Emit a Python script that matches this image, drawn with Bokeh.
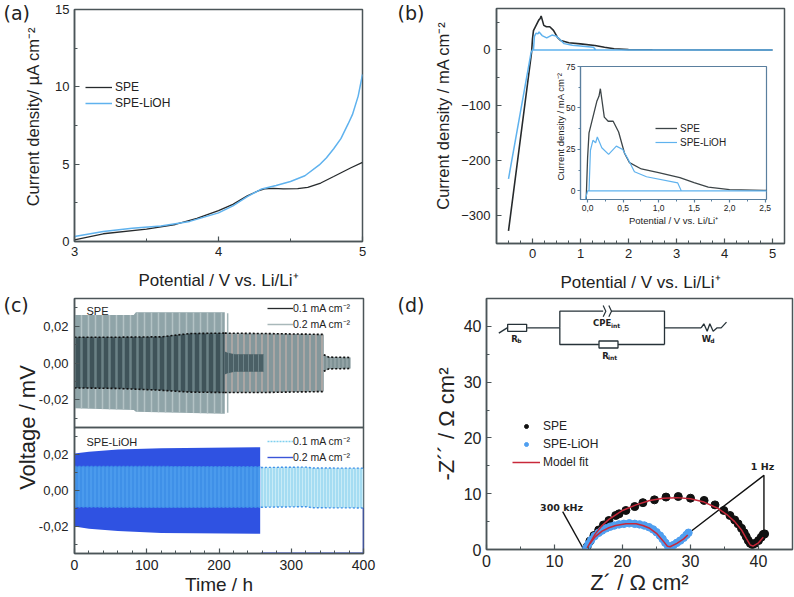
from bokeh.plotting import figure
from bokeh.models import FixedTicker, Legend, LegendItem, Range1d
from bokeh.core.properties import value
from bokeh.embed import file_html
from bokeh.resources import INLINE
import numpy as np

ARIAL = "Liberation Sans"
FRAME = "#4b5558"
BLACK = "#262a2c"
BLUE = "#5fb2ee"
W, H = 794, 597
ABS = {"position": "absolute", "left": "0px", "top": "0px"}
NOPE = [float("nan"), float("nan")]

# ---------- panel (a)
a_x_spe = [3, 3.2, 3.5, 3.7, 3.85, 4, 4.1, 4.2, 4.27, 4.32, 4.38, 4.45, 4.55, 4.62, 4.71, 4.8, 4.92, 5]
a_y_spe = [0.1, 0.5, 0.8, 1.1, 1.5, 2.0, 2.4, 2.95, 3.25, 3.4, 3.44, 3.4, 3.42, 3.5, 3.78, 4.2, 4.77, 5.12]
a_x_lioh = [3, 3.2, 3.4, 3.6, 3.8, 4, 4.1, 4.2, 4.3, 4.4, 4.5, 4.6, 4.7, 4.75, 4.8, 4.85, 4.9, 4.93, 4.97, 5]
a_y_lioh = [0.33, 0.65, 0.85, 1.0, 1.3, 1.85, 2.3, 2.9, 3.4, 3.62, 3.88, 4.25, 4.95, 5.42, 6.0, 6.65, 7.6, 8.2, 9.4, 10.8]

# ---------- panel (b) and its inset
b_x_spe = [-0.5, -0.02, 0, 0.02, 0.075, 0.13, 0.16, 0.18, 0.235, 0.29, 0.36, 0.437, 0.52, 0.59, 0.757, 1.0, 1.3, 1.5, 1.7, 2, 2.5, 5]
b_y_spe = [-327, -5, 20, 35, 44.5, 54, 57, 61.6, 44.5, 42, 42, 35.5, 22.7, 17, 13.2, 11, 8, 5, 2.3, 0.7, 0.3, 0]
b_x_lioh = [-0.5, -0.03, 0, 5, 1.32, 1.27, 0.83, 0.66, 0.565, 0.495, 0.405, 0.296, 0.2, 0.137, 0.113, 0.075, 0.04, 0.02]
b_y_lioh = [-233, -5, 0, 0, 0, 4.8, 8.5, 11.5, 19.5, 25, 27, 22, 26, 32.5, 29, 30.5, 24.5, 0]

# ---------- panel (c) envelopes
c_t_env = [0, 82, 85, 208]
c_grey_hi = [0.026, 0.026, 0.0275, 0.0275]
c_grey_lo = [-0.0245, -0.0255, -0.0265, -0.0275]
c_t_dark = [0, 60, 120, 160, 208]
c_dark_hi = [0.014, 0.014, 0.0142, 0.016, 0.0162]
c_dark_lo = [-0.0135, -0.0138, -0.0148, -0.0158, -0.016]
c_t_mid = [208, 262, 345]
c_mid_hi = [0.0162, 0.016, 0.0155]
c_mid_lo = [-0.016, -0.016, -0.0155]
c_t_in = [208, 212, 222, 262]
c_in_hi = [0.0062, 0.0055, 0.0048, 0.0048]
c_in_lo = [-0.0062, -0.0055, -0.0048, -0.0048]
c_t_tail = [345, 352, 382]
c_tail_hi = [0.0045, 0.0032, 0.003]
c_tail_lo = [-0.0045, -0.0032, -0.003]
c_t_sliver = [212, 212]
c_sliver = [-0.027, 0.027]

d1_t = [0, 20, 60, 120, 257]
d1_hi = [0.0205, 0.0215, 0.0228, 0.0235, 0.024]
d1_lo = [-0.02, -0.0212, -0.0225, -0.0236, -0.024]
d2_t = [0, 120, 257]
d2_hi = [0.0133, 0.0133, 0.0132]
d2_lo = [-0.0092, -0.0094, -0.0093]
d3_t = [258, 320, 330, 400]
d3_hi = [0.0128, 0.0130, 0.0125, 0.0124]
d3_lo = [-0.0093, -0.0090, -0.0096, -0.0097]
d4_t = [258, 400, 400]
d4_v = [-0.0349, -0.0349, -0.0097]

# ---------- panel (d)
z_x_spe = [14.8, 15.2, 15.8, 16.5, 17.2, 18, 19, 19.5, 20.5, 21.8, 23, 24.7, 26.4, 28.2, 30, 32, 33.6, 34.9, 35.8, 36.5, 37, 37.5, 37.9, 38.2, 38.5, 38.8, 39.1, 39.5, 40, 40.4, 40.7, 40.9]
z_y_spe = [0.5, 1.5, 2.5, 3.5, 4.4, 5.2, 6.1, 6.4, 7.0, 7.7, 8.4, 8.9, 9.4, 9.5, 9.2, 8.8, 8.0, 7.0, 6.1, 5.3, 4.6, 3.8, 3.0, 2.3, 1.6, 1.1, 0.9, 1.1, 1.6, 2.2, 2.7, 2.8]
z_x_lioh = [14.7, 15, 15.4, 15.9, 16.5, 17, 17.6, 18.2, 18.8, 19.5, 20.2, 21, 21.8, 22.5, 23.2, 23.9, 24.5, 25, 25.5, 25.9, 26.3, 26.7, 27, 27.5, 28, 28.5, 29, 29.4, 29.7]
z_y_lioh = [0.3, 1, 1.7, 2.4, 3, 3.4, 3.8, 4.1, 4.3, 4.5, 4.6, 4.7, 4.6, 4.5, 4.3, 4.0, 3.6, 3.1, 2.5, 1.9, 1.2, 0.6, 0.5, 0.8, 1.2, 1.6, 2.1, 2.6, 3]
fit1_x = [14.8, 16, 17, 18, 20, 22, 24, 26, 28, 30, 32, 34, 35.5, 36.5, 37.5, 38.2, 38.8, 39.2, 40, 40.7]
fit1_y = [0.3, 2.8, 4.3, 5.4, 7, 8, 8.8, 9.2, 9.3, 9.1, 8.5, 7.4, 6.1, 5, 3.5, 2, 0.8, 0.6, 1.2, 2.2]
fit2_x = [15.2, 16, 17, 18, 19, 20.5, 22, 23, 24, 25, 26, 26.6, 27, 28, 29, 29.6]
fit2_y = [1, 2.3, 3.3, 3.9, 4.3, 4.6, 4.6, 4.3, 3.8, 2.9, 1.5, 0.6, 0.5, 1.1, 1.9, 2.6]
call_300_x = [11.2, 14.3]
call_300_y = [6.8, 0]
call_1hz_x = [29.8, 40.8, 40.8]
call_1hz_y = [3, 13.3, 3]

# circuit drawing, in px of a 3x crop whose corner is (490, 295)
wires_x = [[25, 50], [110, 208], [208, 208, 338], [362, 522, 522, 522], [208, 208, 325], [382, 522], [522, 632],
           [632, 640, 650, 658, 668, 680, 692, 708]]
wires_y = [[113, 97], [97, 97], [97, 47, 47], [47, 47, 147, 97], [97, 147, 147], [147, 147], [97, 97],
           [97, 85, 107, 85, 107, 97, 97, 80]]
boxes_x = [80, 354]
boxes_y = [97, 147]
cpe_x = [[338, 346, 338], [355, 363, 355]]
cpe_y = [[30, 47, 64], [30, 47, 64]]


def panel(fx, fy, fw, fh, xr, yr, tick_font):
    p = figure(width=W, height=H, x_range=Range1d(*xr), y_range=Range1d(*yr),
               output_backend="svg", toolbar_location=None,
               min_border_left=fx, min_border_right=W - fx - fw, min_border_top=fy, min_border_bottom=H - fy - fh,
               background_fill_color=None, border_fill_color=None,
               outline_line_color=FRAME, outline_line_width=1.5, styles=ABS)
    p.grid.visible = False
    for ax in (p.xaxis[0], p.yaxis[0]):
        ax.axis_line_color = FRAME
        ax.axis_line_width = 1.5
        ax.major_tick_line_color = FRAME
        ax.minor_tick_line_color = FRAME
        ax.major_tick_line_width = 1.2
        ax.minor_tick_line_width = 1
        ax.major_tick_in = 5
        ax.major_tick_out = 0
        ax.minor_tick_in = 3
        ax.minor_tick_out = 0
        ax.major_label_text_font = ARIAL
        ax.major_label_text_font_size = tick_font
        ax.major_label_text_color = "#222222"
        ax.axis_label_text_font = ARIAL
        ax.axis_label_text_font_style = "normal"
        ax.axis_label_text_color = "#222222"
    return p


def ticks(ax, major, minor, labels=None):
    ax.ticker = FixedTicker(ticks=major, minor_ticks=minor)
    if labels:
        ax.major_label_overrides = dict(zip(major, labels))


def legend(p, items, loc, font, glyph, row, gap=3):
    lg = Legend(items=[LegendItem(label=value(n), renderers=[r]) for n, r in items],
                location=loc, background_fill_alpha=0, border_line_alpha=0,
                label_text_font=ARIAL, label_text_font_size=font, label_text_color="#222222",
                glyph_width=glyph, glyph_height=10, spacing=0, label_height=row, label_standoff=gap,
                padding=0, margin=0)
    p.add_layout(lg)


# ------- (a)
pa = panel(74, 9, 288, 232, (3, 5), (0, 15), "13px")
ticks(pa.xaxis[0], [3, 4, 5], [3.5, 4.5])
ticks(pa.yaxis[0], [0, 5, 10, 15], [2.5, 7.5, 12.5])
pa.xaxis[0].axis_label = "Potential / V vs. Li/Li⁺"
pa.xaxis[0].axis_label_text_font_size = "17px"
pa.xaxis[0].major_label_standoff = 5
pa.yaxis[0].major_label_standoff = 5
pa.xaxis[0].axis_label_standoff = 12
ra1 = pa.line(a_x_spe, a_y_spe, line_color=BLACK, line_width=1.3)
ra2 = pa.line(a_x_lioh, a_y_lioh, line_color=BLUE, line_width=1.5)
legend(pa, [("SPE", ra1), ("SPE-LiOH", ra2)], (11, 130), "12px", 27, 16)

# ------- (b)
pb = panel(496, 8, 288, 235, (-0.75, 5.25), (-350, 75), "13px")
ticks(pb.xaxis[0], [0, 1, 2, 3, 4, 5], [float(v) for v in np.arange(-0.75, 5.25, 0.25)])
ticks(pb.yaxis[0], [-300, -200, -100, 0], [float(v) for v in np.arange(-350, 76, 50)])
pb.xaxis[0].axis_label = "Potential / V vs. Li/Li⁺"
pb.xaxis[0].axis_label_text_font_size = "17px"
pb.xaxis[0].major_label_standoff = 5
pb.yaxis[0].major_label_standoff = 6
pb.xaxis[0].axis_label_standoff = 12
pb.line(b_x_spe, b_y_spe, line_color=BLACK, line_width=1.6)
pb.line(b_x_lioh, b_y_lioh, line_color=BLUE, line_width=1.5)

# ------- inset
pi = panel(580, 66, 186, 133, (-0.1, 2.52), (-5.2, 75), "8.5px")
INSET = "#5a7f9e"
pi.outline_line_color = INSET
pi.outline_line_width = 1.2
for ax in (pi.xaxis[0], pi.yaxis[0]):
    ax.axis_line_color = INSET
    ax.axis_line_width = 1.2
    ax.major_tick_in = 0
    ax.major_tick_out = 3
    ax.minor_tick_in = 0
    ax.minor_tick_out = 2
    ax.major_tick_line_color = INSET
    ax.minor_tick_line_color = INSET
    ax.major_label_standoff = 2
    ax.axis_label_text_font_size = "9.5px"
ticks(pi.xaxis[0], [0, 0.5, 1, 1.5, 2, 2.5], [0.25, 0.75, 1.25, 1.75, 2.25], ["0,0", "0,5", "1,0", "1,5", "2,0", "2,5"])
ticks(pi.yaxis[0], [0, 25, 50, 75], [12.5, 37.5, 62.5])
pi.xaxis[0].axis_label = "Potential / V vs. Li/Li⁺"
pi.xaxis[0].axis_label_standoff = 1
ri1 = pi.line(b_x_spe, b_y_spe, line_color="#3d4548", line_width=1.3)
ri2 = pi.line(b_x_lioh, b_y_lioh, line_color=BLUE, line_width=1.2)
legend(pi, [("SPE", ri1), ("SPE-LiOH", ri2)], (75, 50), "10px", 22, 14)

# ------- (c)
C_YT = [-0.02, 0, 0.02]
C_YL = ["-0,02", "0,00", "0,02"]
C_YM = [-0.03, -0.01, 0.01, 0.03]
pc1 = panel(74, 298, 289, 129, (0, 400), (-0.035, 0.035), "13px")
pc2 = panel(74, 427, 289, 129, (0, 400), (-0.035, 0.035), "13px")
for p_ in (pc1, pc2):
    ticks(p_.yaxis[0], C_YT, C_YM, C_YL)
    p_.yaxis[0].major_label_standoff = 6
pc1.xaxis[0].visible = False
ticks(pc2.xaxis[0], [0, 100, 200, 300, 400], [float(v) for v in np.arange(0, 401, 20)])
pc2.xaxis[0].major_label_text_font_size = "14px"
pc2.xaxis[0].major_label_standoff = 6
pc2.xaxis[0].axis_label = "Time / h"
pc2.xaxis[0].axis_label_text_font_size = "19px"
pc2.xaxis[0].axis_label_standoff = 1

pc1.varea(c_t_env, c_grey_lo, c_grey_hi, fill_color="#8fa4a8", hatch_pattern="vertical_line",
          hatch_color="#b3c3c5", hatch_scale=7, hatch_weight=1.5)
pc1.line(c_t_sliver, c_sliver, line_color="#a3b5b7", line_width=1.5)
pc1.varea(c_t_dark, c_dark_lo, c_dark_hi, fill_color="#3f5359", hatch_pattern="vertical_line",
          hatch_color="#6b8186", hatch_scale=7, hatch_weight=2.5)
pc1.varea(c_t_mid, c_mid_lo, c_mid_hi, fill_color="#84979b", hatch_pattern="vertical_line",
          hatch_color="#aaa6a4", hatch_scale=6, hatch_weight=2)
pc1.varea(c_t_in, c_in_lo, c_in_hi, fill_color="#4b6066", hatch_pattern="vertical_line",
          hatch_color="#6d8388", hatch_scale=5, hatch_weight=1)
pc1.varea(c_t_tail, c_tail_lo, c_tail_hi, fill_color="#7f9295", hatch_pattern="vertical_line",
          hatch_color="#a4b2b4", hatch_scale=4, hatch_weight=1)
for xs, ys in ((c_t_dark, c_dark_hi), (c_t_dark, c_dark_lo), (c_t_mid, c_mid_hi), (c_t_mid, c_mid_lo),
               (c_t_tail, c_tail_hi), (c_t_tail, c_tail_lo)):
    pc1.line(xs, ys, line_color="#111111", line_width=1.6, line_dash="2 2")
rc1 = pc1.line(NOPE, NOPE, line_color=BLACK, line_width=1.3)
rc2 = pc1.line(NOPE, NOPE, line_color="#a9b8ba", line_width=1.5)
legend(pc1, [("0.1 mA cm⁻²", rc1), ("0.2 mA cm⁻²", rc2)], (193, 95), "10.5px", 26, 16, gap=0)

pc2.varea(d1_t, d1_lo, d1_hi, fill_color="#2f52e2")
pc2.varea(d2_t, d2_lo, d2_hi, fill_color="#3f90e8", hatch_pattern="vertical_line",
          hatch_color="#55a5f2", hatch_scale=4, hatch_weight=1)
pc2.varea(d3_t, d3_lo, d3_hi, fill_color="#a5dcf2", hatch_pattern="vertical_line",
          hatch_color="#c8ebf7", hatch_scale=3, hatch_weight=1)
for xs, ys in ((d2_t, d2_hi), (d2_t, d2_lo), (d3_t, d3_hi), (d3_t, d3_lo)):
    pc2.line(xs, ys, line_color="#3f90e8", line_width=1.4, line_dash="2 2")
pc2.line(d4_t, d4_v, line_color="#3a55d8", line_width=1.5)
rd1 = pc2.line(NOPE, NOPE, line_color="#7fd0ee", line_width=1.5, line_dash="2 1")
rd2 = pc2.line(NOPE, NOPE, line_color="#3a55d8", line_width=1.4)
legend(pc2, [("0.1 mA cm⁻²", rd1), ("0.2 mA cm⁻²", rd2)], (193, 88), "10.5px", 26, 16, gap=0)

# ------- (d)
pd_ = panel(486, 298, 306, 251, (0, 45), (0, 45), "16px")
ticks(pd_.xaxis[0], [0, 10, 20, 30, 40], [float(v) for v in np.arange(0, 45, 5)])
ticks(pd_.yaxis[0], [0, 10, 20, 30, 40], [float(v) for v in np.arange(0, 45, 5)])
pd_.xaxis[0].axis_label = "Z´ / Ω cm²"
pd_.yaxis[0].axis_label = "-Z´´ / Ω cm²"
pd_.xaxis[0].axis_label_text_font_size = "22px"
pd_.yaxis[0].axis_label_text_font_size = "22px"
pd_.xaxis[0].axis_label_standoff = 0
pd_.yaxis[0].axis_label_standoff = 2
pd_.xaxis[0].major_label_standoff = 5
pd_.yaxis[0].major_label_standoff = 5
pd_.line(call_300_x, call_300_y, line_color="#111111", line_width=1.4)
pd_.line(call_1hz_x, call_1hz_y, line_color="#111111", line_width=1.4)
rz1 = pd_.scatter(z_x_spe, z_y_spe, size=8, color="#111111")
rz2 = pd_.scatter(z_x_lioh, z_y_lioh, size=7.5, color="#4f9ff0")
rz3 = pd_.line(fit1_x, fit1_y, line_color="#c8283a", line_width=1.5)
pd_.line(fit2_x, fit2_y, line_color="#c8283a", line_width=1.5)
legend(pd_, [("SPE", rz1), ("SPE-LiOH", rz2), ("Model fit", rz3)], (26, 78), "12px", 28, 18)

# ------- overlay in page pixels: panel letters, off-centre labels, circuit, callout texts
ov = figure(width=W, height=H, x_range=Range1d(0, W), y_range=Range1d(H, 0),
            output_backend="svg", toolbar_location=None, min_border=0,
            background_fill_color=None, border_fill_color=None, outline_line_color=None, styles=ABS)
ov.axis.visible = False
ov.grid.visible = False


def otext(x, y, s, size, font=ARIAL, style="normal", align="center", angle=0, color="#222222"):
    ov.text([x], [y], text=[s], text_font=value(font), text_font_size=size, text_font_style=style,
            text_align=align, text_baseline="middle", angle=angle, text_color=color)


panel_tags = ["(a)", "(b)", "(c)", "(d)"]
tag_x = [3, 397, 3, 397]
tag_y = [12, 12, 304, 304]
for s, x, y in zip(panel_tags, tag_x, tag_y):
    otext(x, y, s, "19px", font="DejaVu Sans", align="left")
otext(27, 427, "Voltage / mV", "22px", angle=np.pi / 2)
otext(32, 116, "Current density/ µA cm⁻²", "16.5px", angle=np.pi / 2)
otext(442, 115, "Current density / mA cm⁻²", "16.5px", angle=np.pi / 2)
otext(560, 126, "Current density / mA cm⁻²", "9.5px", angle=np.pi / 2)
otext(86, 310, "SPE", "11px", align="left")
otext(86, 441, "SPE-LiOH", "11px", align="left")
otext(561, 507, "300 kHz", "9.5px", font="DejaVu Sans", style="bold")
otext(762, 466, "1 Hz", "9.5px", font="DejaVu Sans", style="bold")


def cx(v):
    return 490 + np.asarray(v, dtype=float) / 3


def cy(v):
    return 295 + np.asarray(v, dtype=float) / 3


ov.multi_line([list(cx(v)) for v in wires_x], [list(cy(v)) for v in wires_y], line_color="#263238", line_width=1.3)
ov.multi_line([list(cx(v)) for v in cpe_x], [list(cy(v)) for v in cpe_y], line_color="#263238", line_width=1.2)
ov.rect(list(cx(boxes_x)), list(cy(boxes_y)), width=19, height=7, fill_color="white",
        line_color="#263238", line_width=1.3)
circ_labels = [("R", 72, 130, "8.5px"), ("b", 87, 136, "6px"), ("CPE", 335, 83, "8.5px"), ("int", 375, 89, "6px"),
               ("R", 345, 180, "8.5px"), ("int", 366, 187, "6px"), ("W", 648, 130, "8.5px"), ("d", 666, 136, "6px")]
for s, x, y, size in circ_labels:
    otext(float(cx(x)), float(cy(y)), s, size, font="DejaVu Sans", style="bold")

roots = [pa, pb, pi, pc1, pc2, pd_, ov]
open("out.html", "w").write(file_html(roots, INLINE))
